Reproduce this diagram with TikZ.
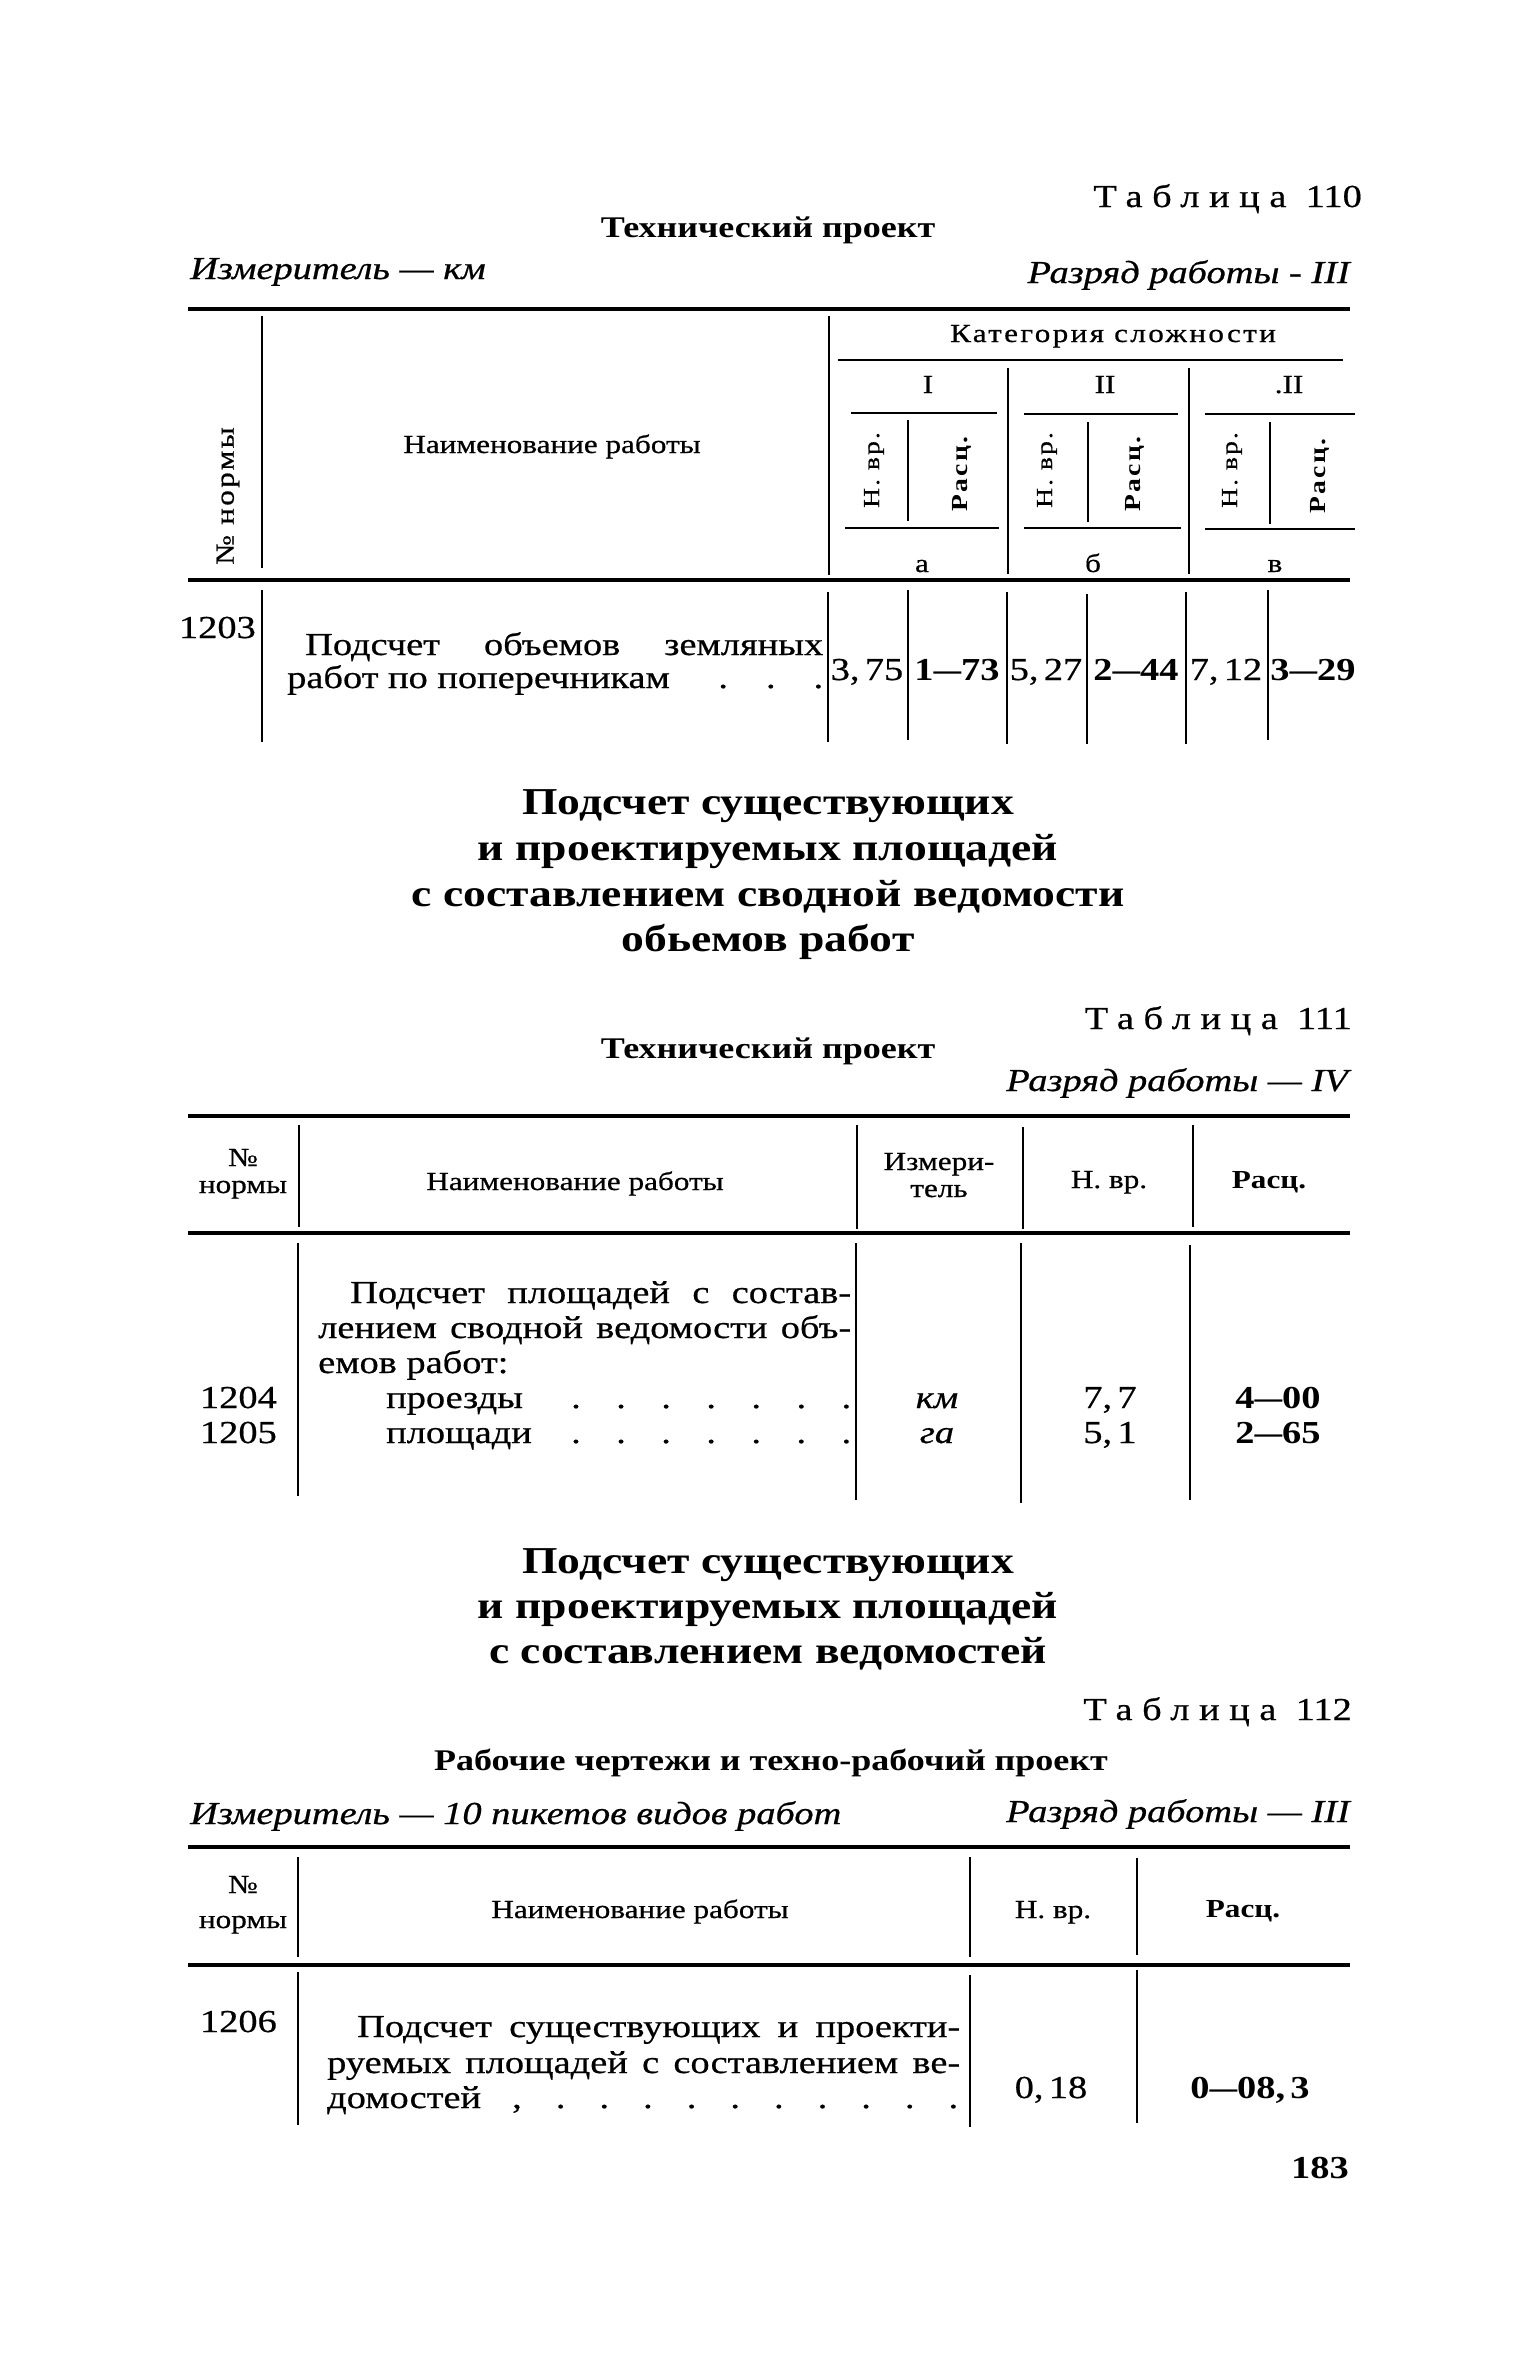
\documentclass[tikz,border=0pt]{standalone}
\usepackage{fontspec}
\usepackage{graphicx}
\setmainfont[FakeStretch=1.2,UprightFeatures={FakeBold=0.6},ItalicFeatures={FakeBold=0.6}]{Liberation Serif}
\newfontfamily\spf[FakeStretch=1.2,LetterSpace=9,UprightFeatures={FakeBold=0.6}]{Liberation Serif}
\newfontfamily\tabf[FakeStretch=1.2,LetterSpace=30,UprightFeatures={FakeBold=0.6}]{Liberation Serif}
\newcommand\fb{\fontsize{32}{35}\selectfont}
\newcommand\fsm{\fontsize{26}{29}\selectfont}
\newcommand\fsp{\spf\fontsize{26}{29}\selectfont}
\newcommand\frot{\spf\fontsize{23}{26}\selectfont}
\newcommand\fH{\fontsize{38}{46}\selectfont\bfseries}
\newcommand\fsub{\fontsize{30}{34}\selectfont\bfseries}
\newcommand\fit{\fontsize{32}{35}\selectfont\itshape}
\newcommand\ftab{\tabf\fontsize{32}{35}\selectfont}
\newcommand\tnum[1]{{\rmfamily\fb #1}}
\newcommand\dsh{\scalebox{0.72}[1]{—}}
\begin{document}
\begin{tikzpicture}[x=1pt,y=-1pt,
  heavy/.style={line width=4pt},
  rule/.style={line width=2.6pt},
  vline/.style={line width=2.5pt},
  tc/.style={inner sep=0pt,anchor=base},
  tl/.style={inner sep=0pt,anchor=base west},
  tr/.style={inner sep=0pt,anchor=base east},
  rot/.style={inner sep=0pt,rotate=90,anchor=center}]
\useasboundingbox (0,0) rectangle (1535,2363);
\fill[white] (0,0) rectangle (1535,2363);

% ---------------- Table 110 ----------------
\node[tr] (t110) at (1362,207) {\ftab Таблица \tnum{110}};
\node[tc] (tp1) at (768,237) {\fsub Технический проект};
\node[tl] (iz1) at (190,279) {\fit Измеритель — км};
\node[tr] (rz1) at (1350,283) {\fit Разряд работы - III};
\draw[heavy] (188,309) -- (1350,309);
\draw[vline] (262,316) -- (262,568);
\draw[vline] (829,316) -- (829,575);
\node[tc] (kat) at (1113,342) {\fsp Категория сложности};
\draw[rule] (838,360) -- (1343,360);
\draw[vline] (1008,368) -- (1008,574);
\draw[vline] (1189,368) -- (1189,574);
\node[tc] (g1) at (928,393) {\fsm I};
\node[tc] (g2) at (1105,393) {\fsm II};
\node[tc] (g3) at (1289,393) {\fsm .II};
\draw[rule] (851,413) -- (997,413);
\draw[rule] (1024,414) -- (1178,414);
\draw[rule] (1205,414) -- (1355,414);
\draw[vline] (908,420) -- (908,521);
\draw[vline] (1088,422) -- (1088,522);
\draw[vline] (1270,422) -- (1270,524);
\node[rot] (nv1) at (874,470) {\frot Н. вр.};
\node[rot] (rc1) at (962,474) {\frot\bfseries Расц.};
\node[rot] (nv2) at (1047,470) {\frot Н. вр.};
\node[rot] (rc2) at (1135,474) {\frot\bfseries Расц.};
\node[rot] (nv3) at (1232,470) {\frot Н. вр.};
\node[rot] (rc3) at (1320,476) {\frot\bfseries Расц.};
\draw[rule] (845,528) -- (999,528);
\draw[rule] (1024,528) -- (1181,528);
\draw[rule] (1205,529) -- (1355,529);
\node[tc] (la) at (922,572) {\fsm а};
\node[tc] (lb) at (1093,572) {\fsm б};
\node[tc] (lv) at (1275,572) {\fsm в};
\node[rot] (nn1) at (228,496) {\fsp № нормы};
\node[tc] (nr1) at (552,453) {\fsm Наименование работы};
\draw[heavy] (188,580) -- (1350,580);
% data row
\draw[vline] (262,590) -- (262,742);
\draw[vline] (828,592) -- (828,742);
\draw[vline] (908,590) -- (908,740);
\draw[vline] (1007,592) -- (1007,744);
\draw[vline] (1087,594) -- (1087,744);
\draw[vline] (1186,592) -- (1186,744);
\draw[vline] (1268,590) -- (1268,740);
\node[tr] (n1203) at (256,638) {\fb 1203};
\node[tl] (w1a) at (305,655) {\fb\makebox[518pt][s]{Подсчет объемов земляных}};
\node[tl] (w1b) at (287,688) {\fb\makebox[536pt][s]{работ по поперечникам\hfill.\hspace{38pt}.\hspace{38pt}.}};
\node[tc] (v1) at (867,680) {\fb 3,\,75};
\node[tc] (v2) at (957,680) {\fb\bfseries 1\dsh73};
\node[tc] (v3) at (1046,680) {\fb 5,\,27};
\node[tc] (v4) at (1136,680) {\fb\bfseries 2\dsh44};
\node[tc] (v5) at (1226,680) {\fb 7,\,12};
\node[tc] (v6) at (1313,680) {\fb\bfseries 3\dsh29};

% ---------------- Heading 1 ----------------
\node[tc] (h1a) at (768,814) {\fH Подсчет существующих};
\node[tc] (h1b) at (768,860) {\fH и проектируемых площадей};
\node[tc] (h1c) at (768,906) {\fH с составлением сводной ведомости};
\node[tc] (h1d) at (768,951) {\fH обьемов работ};

% ---------------- Table 111 ----------------
\node[tr] (t111) at (1352,1029) {\ftab Таблица \tnum{111}};
\node[tc] (tp2) at (768,1058) {\fsub Технический проект};
\node[tr] (rz2) at (1348,1091) {\fit Разряд работы — IV};
\draw[heavy] (188,1116) -- (1350,1116);
\draw[vline] (299,1125) -- (299,1227);
\draw[vline] (857,1125) -- (857,1229);
\draw[vline] (1023,1127) -- (1023,1229);
\draw[vline] (1193,1125) -- (1193,1227);
\node[tc] (no2a) at (243,1166) {\fsm №};
\node[tc] (no2b) at (243,1193) {\fsm нормы};
\node[tc] (nr2) at (575,1190) {\fsm Наименование работы};
\node[tc] (iz2a) at (939,1170) {\fsm Измери-};
\node[tc] (iz2b) at (939,1197) {\fsm тель};
\node[tc] (nv4) at (1109,1188) {\fsm Н. вр.};
\node[tc] (rc4) at (1269,1188) {\fsm\bfseries Расц.};
\draw[heavy] (188,1233) -- (1350,1233);
\draw[vline] (298,1243) -- (298,1496);
\draw[vline] (856,1243) -- (856,1500);
\draw[vline] (1021,1243) -- (1021,1503);
\draw[vline] (1190,1245) -- (1190,1500);
\node[tl] (w2a) at (350,1303) {\fb\makebox[501pt][s]{Подсчет площадей с состав-}};
\node[tl] (w2b) at (318,1338) {\fb\makebox[533pt][s]{лением сводной ведомости объ-}};
\node[tl] (w2c) at (318,1373) {\fb емов работ:};
\node[tl] (w2d) at (386,1408) {\fb\makebox[465pt][s]{проезды\hfill\makebox[280pt][s]{.\hfill.\hfill.\hfill.\hfill.\hfill.\hfill.}}};
\node[tl] (w2e) at (386,1443) {\fb\makebox[465pt][s]{площади\hfill\makebox[280pt][s]{.\hfill.\hfill.\hfill.\hfill.\hfill.\hfill.}}};
\node[tr] (n1204) at (277,1408) {\fb 1204};
\node[tr] (n1205) at (277,1443) {\fb 1205};
\node[tc] (u1) at (937,1408) {\fit км};
\node[tc] (u2) at (937,1443) {\fit га};
\node[tc] (hv1) at (1110,1408) {\fb 7,\,7};
\node[tc] (hv2) at (1110,1443) {\fb 5,\,1};
\node[tc] (rs1) at (1278,1408) {\fb\bfseries 4\dsh00};
\node[tc] (rs2) at (1278,1443) {\fb\bfseries 2\dsh65};

% ---------------- Heading 2 ----------------
\node[tc] (h2a) at (768,1573) {\fH Подсчет существующих};
\node[tc] (h2b) at (768,1618) {\fH и проектируемых площадей};
\node[tc] (h2c) at (768,1663) {\fH с составлением ведомостей};

% ---------------- Table 112 ----------------
\node[tr] (t112) at (1352,1720) {\ftab Таблица \tnum{112}};
\node[tc] (tp3) at (771,1770) {\fsub Рабочие чертежи и техно-рабочий проект};
\node[tl] (iz3) at (190,1824) {\fit Измеритель — 10 пикетов видов работ};
\node[tr] (rz3) at (1350,1822) {\fit Разряд работы — III};
\draw[heavy] (188,1847) -- (1350,1847);
\draw[vline] (298,1857) -- (298,1957);
\draw[vline] (970,1857) -- (970,1957);
\draw[vline] (1137,1858) -- (1137,1955);
\node[tc] (no3a) at (243,1893) {\fsm №};
\node[tc] (no3b) at (243,1928) {\fsm нормы};
\node[tc] (nr3) at (640,1918) {\fsm Наименование работы};
\node[tc] (nv5) at (1053,1918) {\fsm Н. вр.};
\node[tc] (rc5) at (1243,1917) {\fsm\bfseries Расц.};
\draw[heavy] (188,1965) -- (1350,1965);
\draw[vline] (298,1972) -- (298,2125);
\draw[vline] (970,1975) -- (970,2127);
\draw[vline] (1137,1970) -- (1137,2123);
\node[tr] (n1206) at (277,2032) {\fb 1206};
\node[tl] (w3a) at (357,2037) {\fb\makebox[603pt][s]{Подсчет существующих и проекти-}};
\node[tl] (w3b) at (327,2073) {\fb\makebox[633pt][s]{руемых площадей с составлением ве-}};
\node[tl] (w3c) at (327,2108) {\fb\makebox[631pt][s]{домостей\hfill\makebox[446pt][s]{,\hfill.\hfill.\hfill.\hfill.\hfill.\hfill.\hfill.\hfill.\hfill.\hfill.}}};
\node[tc] (hv3) at (1051,2098) {\fb 0,\,18};
\node[tc] (rs3) at (1250,2098) {\fb\bfseries 0\dsh08,\,3};
\node[tr] (pg) at (1349,2178) {\fb\bfseries 183};
\end{tikzpicture}
\end{document}
